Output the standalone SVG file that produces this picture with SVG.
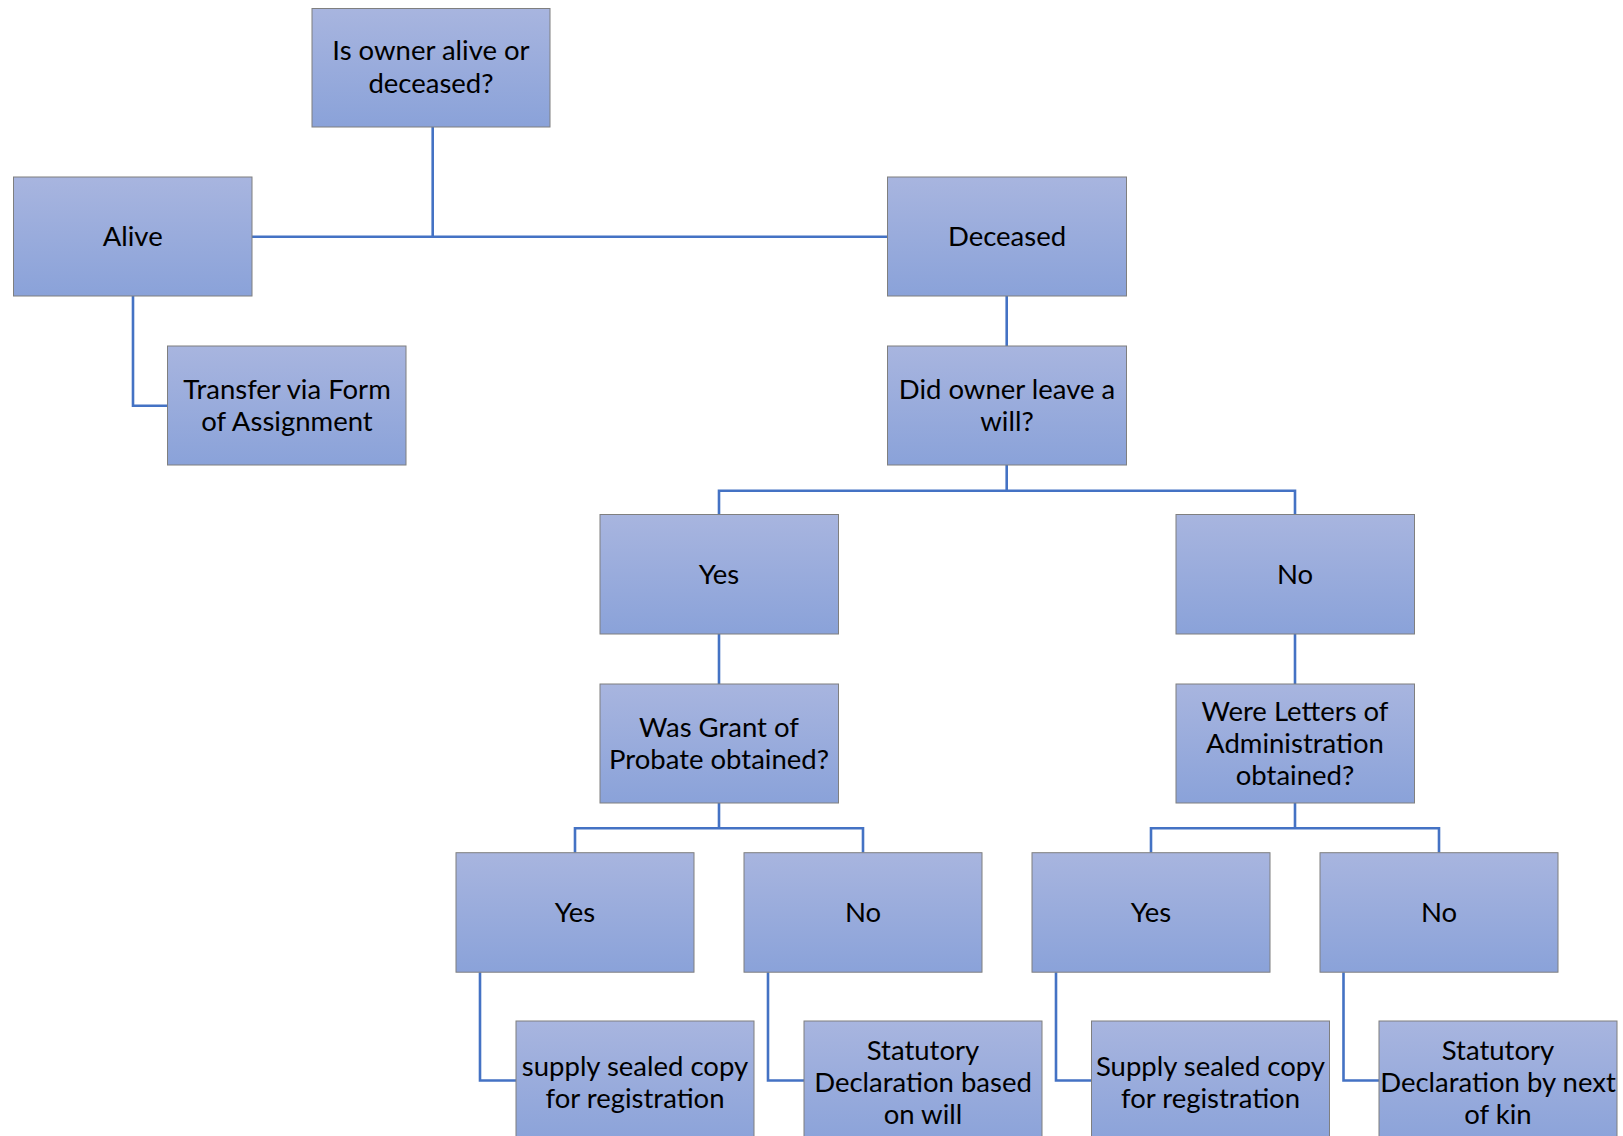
<svg xmlns="http://www.w3.org/2000/svg" width="1623" height="1136" viewBox="0 0 1623 1136">
<defs>
<linearGradient id="g" x1="0" y1="0" x2="0" y2="1">
<stop offset="0" stop-color="#a8b5df"/>
<stop offset="1" stop-color="#8aa2d9"/>
</linearGradient>
<style>
.box{fill:url(#g);stroke:#7f7f7f;stroke-width:1}
.t{font-family:Lato,"Liberation Sans",sans-serif;font-size:27.5px;fill:#000;text-anchor:middle;dominant-baseline:central}
.c{fill:none;stroke:#4472c4;stroke-width:2.6}
</style>
</defs>
<rect width="1623" height="1136" fill="#fff"/>
<g id="connectors">
<path class="c" d="M432.7 127V236.7M252 236.7H887.5"/>
<path class="c" d="M133 296V405.7H167.5"/>
<path class="c" d="M1006.7 296V346"/>
<path class="c" d="M1006.7 465V490.7M719 514.3V490.7H1295V514.3"/>
<path class="c" d="M719 634V684"/>
<path class="c" d="M1295 634V684"/>
<path class="c" d="M719 803V828.3M575 852.7V828.3H863V852.7"/>
<path class="c" d="M1295 803V828.3M1151 852.7V828.3H1439V852.7"/>
<path class="c" d="M480 972.3V1080.5H516"/>
<path class="c" d="M768 972.3V1080.5H804"/>
<path class="c" d="M1056 972.3V1080.5H1091.5"/>
<path class="c" d="M1343.5 972.3V1080.5H1379"/>
</g>
<g id="n-root"><rect class="box" x="312" y="8.5" width="238" height="118.5"/><text class="t" x="431" y="49">Is owner alive or</text><text class="t" x="431" y="82">deceased?</text></g>
<g id="n-alive"><rect class="box" x="13.5" y="177" width="238.5" height="119"/><text class="t" x="132.7" y="235">Alive</text></g>
<g id="n-transfer"><rect class="box" x="167.5" y="346" width="238.5" height="119"/><text class="t" x="287" y="388">Transfer via Form</text><text class="t" x="287" y="420">of Assignment</text></g>
<g id="n-deceased"><rect class="box" x="887.5" y="177" width="239" height="119"/><text class="t" x="1007" y="235">Deceased</text></g>
<g id="n-will"><rect class="box" x="887.5" y="346" width="239" height="119"/><text class="t" x="1007" y="388">Did owner leave a</text><text class="t" x="1007" y="420">will?</text></g>
<g id="n-yes1"><rect class="box" x="600" y="514.5" width="238.5" height="119.5"/><text class="t" x="719" y="573">Yes</text></g>
<g id="n-no1"><rect class="box" x="1176" y="514.5" width="238.5" height="119.5"/><text class="t" x="1295" y="573">No</text></g>
<g id="n-probate"><rect class="box" x="600" y="684" width="238.5" height="119"/><text class="t" x="719" y="726">Was Grant of</text><text class="t" x="719" y="758">Probate obtained?</text></g>
<g id="n-letters"><rect class="box" x="1176" y="684" width="238.5" height="119"/><text class="t" x="1295" y="710">Were Letters of</text><text class="t" x="1295" y="742">Administration</text><text class="t" x="1295" y="774">obtained?</text></g>
<g id="n-yes2"><rect class="box" x="456" y="852.7" width="238" height="119.5"/><text class="t" x="575" y="911">Yes</text></g>
<g id="n-no2"><rect class="box" x="744" y="852.7" width="238" height="119.5"/><text class="t" x="863" y="911">No</text></g>
<g id="n-yes3"><rect class="box" x="1032" y="852.7" width="238" height="119.5"/><text class="t" x="1151" y="911">Yes</text></g>
<g id="n-no3"><rect class="box" x="1320" y="852.7" width="238" height="119.5"/><text class="t" x="1439" y="911">No</text></g>
<g id="n-supply1"><rect class="box" x="516" y="1021" width="238" height="125"/><text class="t" x="635" y="1065">supply sealed copy</text><text class="t" x="635" y="1097">for registration</text></g>
<g id="n-statwill"><rect class="box" x="804" y="1021" width="238" height="125"/><text class="t" x="923" y="1049">Statutory</text><text class="t" x="923" y="1081">Declaration based</text><text class="t" x="923" y="1113">on will</text></g>
<g id="n-supply2"><rect class="box" x="1091.5" y="1021" width="238" height="125"/><text class="t" x="1210.5" y="1065">Supply sealed copy</text><text class="t" x="1210.5" y="1097">for registration</text></g>
<g id="n-statkin"><rect class="box" x="1379" y="1021" width="238" height="125"/><text class="t" x="1498" y="1049">Statutory</text><text class="t" x="1498" y="1081">Declaration by next</text><text class="t" x="1498" y="1113">of kin</text></g>
</svg>
